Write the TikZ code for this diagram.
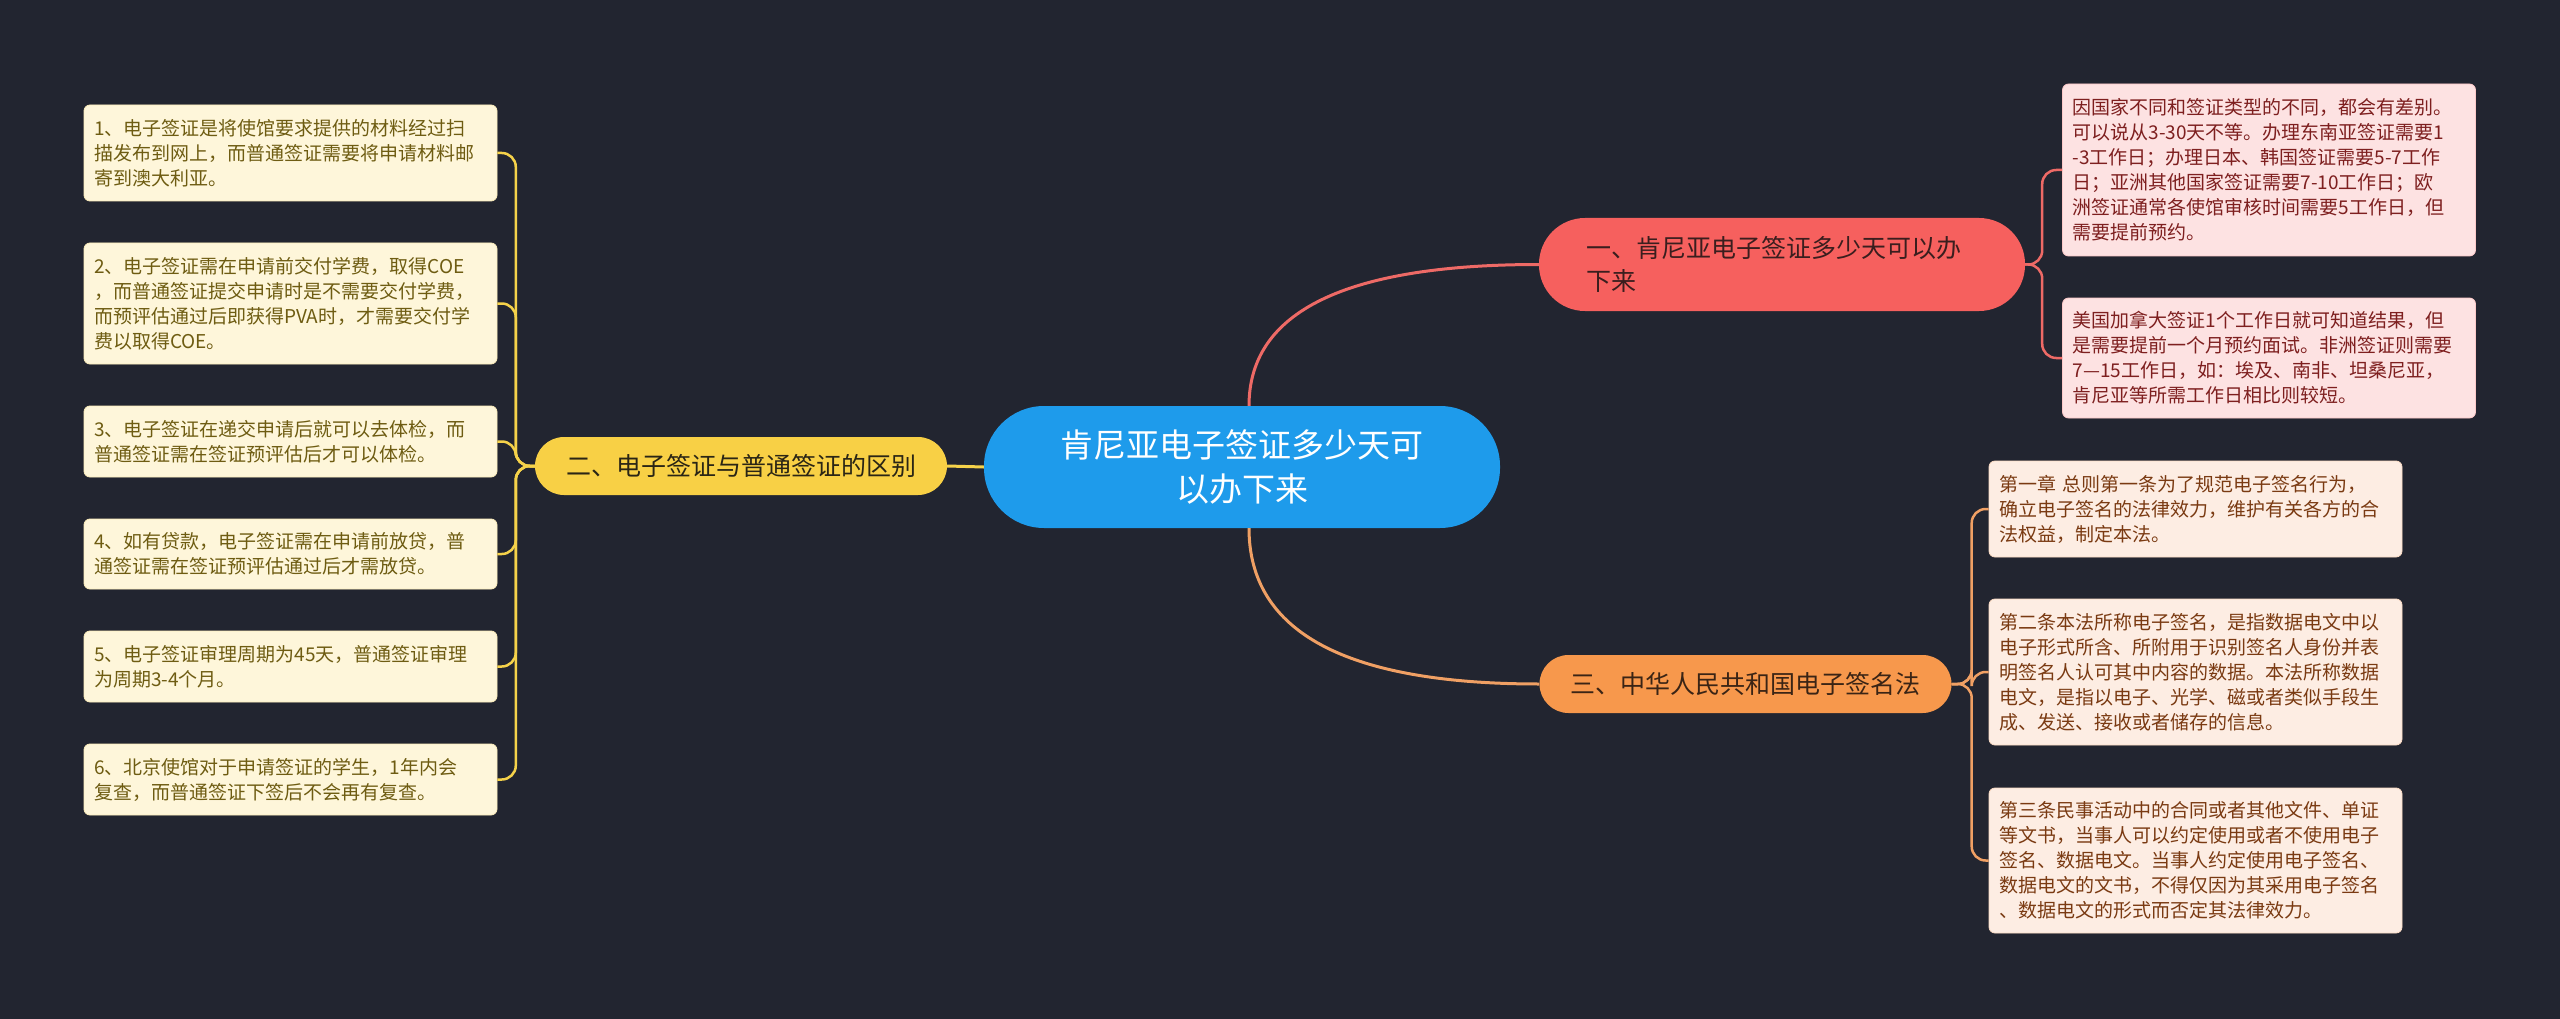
\documentclass[tikz,border=0pt]{standalone}
\usepackage{fontspec}
\setmainfont{Noto Sans CJK SC}
\usetikzlibrary{calc}
\definecolor{bg}{HTML}{222530}
\definecolor{cfill}{HTML}{1E9BEB}
\definecolor{rfill}{HTML}{F6605E}
\definecolor{rtext}{HTML}{3A1E1E}
\definecolor{rline}{HTML}{EE6A66}
\definecolor{rlfill}{HTML}{FDE2E2}
\definecolor{rltext}{HTML}{7E1F1F}
\definecolor{yfill}{HTML}{F8D045}
\definecolor{ytext}{HTML}{2A2515}
\definecolor{yline}{HTML}{F5D24A}
\definecolor{ylfill}{HTML}{FEF6DA}
\definecolor{yltext}{HTML}{6E5C12}
\definecolor{ofill}{HTML}{F7984C}
\definecolor{otext}{HTML}{3A2415}
\definecolor{oline}{HTML}{F0A064}
\definecolor{olfill}{HTML}{FDEDE3}
\definecolor{oltext}{HTML}{7A3A12}
\begin{document}
\begin{tikzpicture}[x=1pt,y=-1pt,
  leaf/.style={rectangle, rounded corners=6pt, text width=393pt, inner xsep=10pt, inner ysep=0pt, align=left, font=\fontsize{19}{25}\selectfont, line width=0.8pt},
  rleaf/.style={leaf, fill=rlfill, draw=rlfill!80!rfill, text=rltext},
  yleaf/.style={leaf, fill=ylfill, draw=ylfill!80!yfill, text=yltext},
  oleaf/.style={leaf, fill=olfill, draw=olfill!80!ofill, text=oltext},
  branch/.style={rectangle, rounded corners=29pt, minimum width=412pt, minimum height=58pt, inner sep=0pt, font=\fontsize{25}{33}\selectfont, align=center},
  mainline/.style={line width=3pt},
  bracket/.style={line width=2.5pt, rounded corners=14pt}
]
\path[use as bounding box, fill=bg] (0,0) rectangle (2560,1019);

% central
\node[rectangle, rounded corners=60pt, fill=cfill, text=white, minimum width=516pt, minimum height=122pt, inner sep=0pt, align=center, font=\fontsize{33}{44}\selectfont] (c) at (1242,467) {肯尼亚电子签证多少天可\\以办下来};

% branches
\node[rectangle, rounded corners=46pt, fill=rfill, text=rtext, text width=392pt, inner xsep=47pt, inner ysep=0pt, minimum height=93pt, align=left, font=\fontsize{25}{33}\selectfont] (rb) at (1782,264.5) {一、肯尼亚电子签证多少天可以办\\下来};
\node[branch, fill=yfill, text=ytext] (yb) at (741,466) {二、电子签证与普通签证的区别};
\node[branch, fill=ofill, text=otext] (ob) at (1745.5,684) {三、中华人民共和国电子签名法};

% red leaves
\node[rleaf, minimum height=172pt] (r1) at (2269,170) {因国家不同和签证类型的不同，都会有差别。\\可以说从3-30天不等。办理东南亚签证需要1\\-3工作日；办理日本、韩国签证需要5-7工作\\日；亚洲其他国家签证需要7-10工作日；欧\\洲签证通常各使馆审核时间需要5工作日，但\\需要提前预约。};
\node[rleaf, minimum height=120pt] (r2) at (2269,358) {美国加拿大签证1个工作日就可知道结果，但\\是需要提前一个月预约面试。非洲签证则需要\\7—15工作日，如：埃及、南非、坦桑尼亚，\\肯尼亚等所需工作日相比则较短。};

% orange leaves
\node[oleaf, minimum height=96pt] (o1) at (2195.5,509) {第一章 总则第一条为了规范电子签名行为，\\确立电子签名的法律效力，维护有关各方的合\\法权益，制定本法。};
\node[oleaf, minimum height=146pt] (o2) at (2195.5,672) {第二条本法所称电子签名，是指数据电文中以\\电子形式所含、所附用于识别签名人身份并表\\明签名人认可其中内容的数据。本法所称数据\\电文，是指以电子、光学、磁或者类似手段生\\成、发送、接收或者储存的信息。};
\node[oleaf, minimum height=145pt] (o3) at (2195.5,860.5) {第三条民事活动中的合同或者其他文件、单证\\等文书，当事人可以约定使用或者不使用电子\\签名、数据电文。当事人约定使用电子签名、\\数据电文的文书，不得仅因为其采用电子签名\\、数据电文的形式而否定其法律效力。};

% yellow leaves
\node[yleaf, minimum height=96pt] (l1) at (290.5,153) {1、电子签证是将使馆要求提供的材料经过扫\\描发布到网上，而普通签证需要将申请材料邮\\寄到澳大利亚。};
\node[yleaf, minimum height=121pt] (l2) at (290.5,303.5) {2、电子签证需在申请前交付学费，取得COE\\，而普通签证提交申请时是不需要交付学费，\\而预评估通过后即获得PVA时，才需要交付学\\费以取得COE。};
\node[yleaf, minimum height=71pt] (l3) at (290.5,441.5) {3、电子签证在递交申请后就可以去体检，而\\普通签证需在签证预评估后才可以体检。};
\node[yleaf, minimum height=70pt] (l4) at (290.5,554) {4、如有贷款，电子签证需在申请前放贷，普\\通签证需在签证预评估通过后才需放贷。};
\node[yleaf, minimum height=71pt] (l5) at (290.5,666.5) {5、电子签证审理周期为45天，普通签证审理\\为周期3-4个月。};
\node[yleaf, minimum height=71pt] (l6) at (290.5,779.5) {6、北京使馆对于申请签证的学生，1年内会\\复查，而普通签证下签后不会再有复查。};

% main connectors (true quadratic curves)
\coordinate (ct) at ([xshift=7pt]c.north);
\coordinate (cb) at ([xshift=7pt]c.south);
\coordinate (kr) at (ct |- rb.west);
\coordinate (ko) at (cb |- ob.west);
\draw[mainline, rline] (ct) .. controls ($(ct)!0.667!(kr)$) and ($(rb.west)!0.667!(kr)$) .. (rb.west);
\draw[mainline, oline] (cb) .. controls ($(cb)!0.667!(ko)$) and ($(ob.west)!0.667!(ko)$) .. (ob.west);
\draw[mainline, yline] (c.west) -- (yb.east);

% brackets
\coordinate (rbx) at ([xshift=17pt]rb.east);
\coordinate (obx) at ([xshift=20pt]ob.east);
\coordinate (ybx) at ([xshift=-19pt]yb.west);
\foreach \l in {r1,r2}{\draw[bracket, rline] (rb.east) -- (rbx) |- (\l.west);}
\foreach \l in {o1,o2,o3}{\draw[bracket, oline] (ob.east) -- (obx) |- (\l.west);}
\foreach \l in {l1,l2,l3,l4,l5,l6}{\draw[bracket, yline] (yb.west) -- (ybx) |- (\l.east);}
\end{tikzpicture}
\end{document}
